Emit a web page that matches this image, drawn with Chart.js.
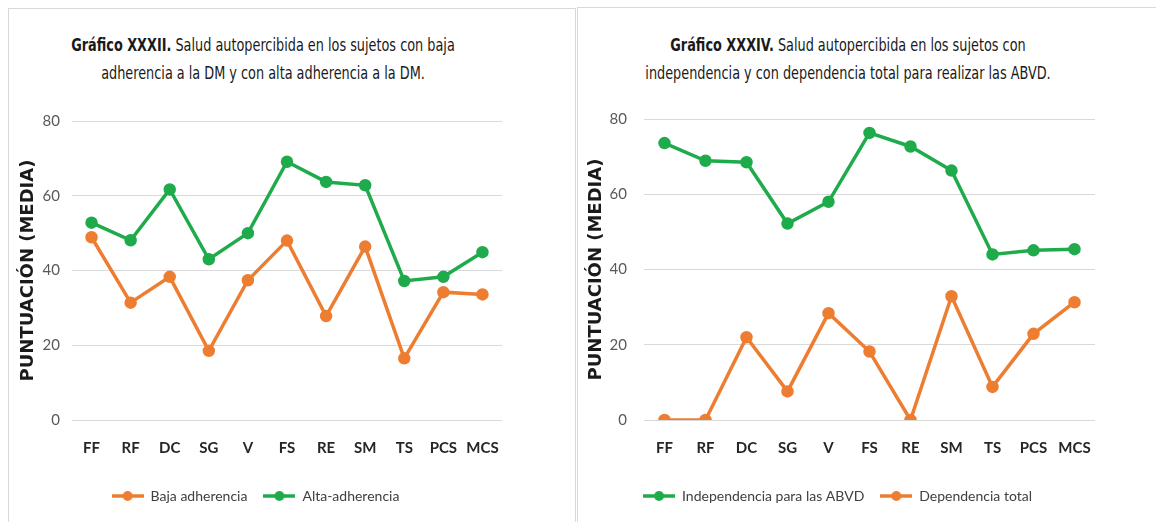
<!DOCTYPE html>
<html>
<head>
<meta charset="utf-8">
<script src="https://cdn.jsdelivr.net/npm/chart.js@4.4.1/dist/chart.umd.min.js"></script>
<style>
  body { margin: 0; background: #fff; width: 1156px; height: 522px; overflow: hidden; position: relative; }
  .panel { position: absolute; border: 1px solid #d9d9d9; box-sizing: border-box; }
  .title { position: absolute; font-family: "DejaVu Sans", sans-serif; font-stretch: condensed; font-size: 17px; color: #1a1a1a; text-align: center; line-height: 28px; white-space: nowrap; transform: translateX(-50%) scaleX(0.84); }
  .title b { font-weight: bold; }
  .box { position: absolute; }
</style>
</head>
<body>
<div class="panel" style="left:8px; top:8px; width:568px; height:530px;"></div>
<div class="panel" style="left:577px; top:7px; width:600px; height:530px;"></div>

<div class="title" style="left:263px; top:31px;"><b>Gráfico XXXII.</b> Salud autopercibida en los sujetos con baja<br>adherencia a la DM y con alta adherencia a la DM.</div>
<div class="title" style="left:848px; top:31px;"><b>Gráfico XXXIV.</b> Salud autopercibida en los sujetos con<br>independencia y con dependencia total para realizar las ABVD.</div>

<div class="box" style="left:9px; top:100px; width:512px; height:415px;"><canvas id="chart1"></canvas></div>
<div class="box" style="left:580px; top:100px; width:536px; height:415px;"><canvas id="chart2"></canvas></div>

<script>
// Categories and values
var categories = ['FF', 'RF', 'DC', 'SG', 'V', 'FS', 'RE', 'SM', 'TS', 'PCS', 'MCS'];
var yTicks = [0, 20, 40, 60, 80];

var bajaAdherencia = [48.9, 31.4, 38.3, 18.5, 37.4, 48.0, 27.8, 46.4, 16.5, 34.2, 33.6];
var altaAdherencia = [52.8, 48.1, 61.7, 43.0, 50.0, 69.1, 63.7, 62.8, 37.2, 38.3, 44.9];

var independencia = [73.6, 68.9, 68.5, 52.2, 58.0, 76.3, 72.7, 66.3, 44.0, 45.1, 45.4];
var dependenciaTotal = [0, 0, 22.0, 7.6, 28.4, 18.2, 0, 32.9, 8.8, 22.9, 31.3];

var ORANGE = '#ed7d31';
var GREEN = '#1fab4c';
var FAMILY = 'Lato, "Open Sans", sans-serif';

// legend marker: short line with a dot, like the Excel legend
function legendMarker(color) {
	var c = document.createElement('canvas');
	c.width = 32;
	c.height = 12;
	var g = c.getContext('2d');
	g.strokeStyle = color;
	g.lineWidth = 3.5;
	g.beginPath();
	g.moveTo(0, 6);
	g.lineTo(32, 6);
	g.stroke();
	g.fillStyle = color;
	g.beginPath();
	g.arc(16, 6, 5, 0, Math.PI * 2);
	g.fill();
	return c;
}

function lineSet(label, data, color) {
	return {
		label: label,
		data: data,
		borderColor: color,
		backgroundColor: color,
		pointBackgroundColor: color,
		pointBorderColor: color,
		pointStyle: 'circle',
		pointRadius: 4.5,
		pointHoverRadius: 4.5,
		borderWidth: 3.5,
		tension: 0,
	};
}

function buildOptions(yWidth, titlePad, tickPad, rightPad, topPad) {
	return {
		responsive: true,
		maintainAspectRatio: false,
		animation: false,
		layout: {
			padding: { top: topPad, right: rightPad, bottom: 2, left: 0 },
		},
		plugins: {
			legend: {
				position: 'bottom',
				labels: {
					usePointStyle: true,
					pointStyleWidth: 32,
					color: '#404040',
					padding: 16,
					font: { family: FAMILY, size: 14 },
					generateLabels: function (chart) {
						return chart.data.datasets.map(function (ds, i) {
							return {
								text: ds.label,
								pointStyle: legendMarker(ds.borderColor),
								fillStyle: ds.borderColor,
								strokeStyle: ds.borderColor,
								lineWidth: 0,
								fontColor: '#404040',
								datasetIndex: i,
								hidden: false,
							};
						});
					},
				},
			},
			tooltip: { enabled: false },
		},
		scales: {
			x: {
				offset: true,
				grid: { display: false, drawTicks: false },
				border: { display: false },
				ticks: {
					color: '#262626',
					padding: 19,
					maxRotation: 0,
					autoSkip: false,
					font: { family: FAMILY, size: 15, weight: 'bold' },
				},
				afterFit: function (scale) { scale.height = 53; },
			},
			y: {
				min: 0,
				max: 80,
				afterBuildTicks: function (scale) {
					scale.ticks = yTicks.map(function (v) { return { value: v }; });
				},
				grid: { color: '#d9d9d9', lineWidth: 1, drawTicks: false },
				border: { display: false },
				ticks: {
					color: '#595959',
					padding: tickPad,
					font: { family: FAMILY, size: 15 },
				},
				title: {
					display: true,
					text: 'PUNTUACIÓN (MEDIA)',
					color: '#1a1a1a',
					padding: { top: titlePad, bottom: 0 },
					font: { family: '"DejaVu Sans", sans-serif', size: 18, weight: 'bold' },
				},
				afterFit: function (scale) {
					scale.width = yWidth;
					// keep the plot top set by layout padding only
					scale.paddingTop = 0;
					scale.paddingBottom = 0;
				},
			},
		},
	};
}

// Gráfico XXXII
new Chart(document.getElementById('chart1').getContext('2d'), {
	type: 'line',
	data: {
		labels: categories,
		datasets: [
			lineSet('Baja adherencia', bajaAdherencia, ORANGE),
			lineSet('Alta-adherencia', altaAdherencia, GREEN),
		],
	},
	options: buildOptions(63, 9, 12, 19, 21),
});

// Gráfico XXXIV
new Chart(document.getElementById('chart2').getContext('2d'), {
	type: 'line',
	data: {
		labels: categories,
		datasets: [
			lineSet('Independencia para las ABVD', independencia, GREEN),
			lineSet('Dependencia total', dependenciaTotal, ORANGE),
		],
	},
	options: buildOptions(64, 6, 17, 21, 19),
});
</script>
</body>
</html>
